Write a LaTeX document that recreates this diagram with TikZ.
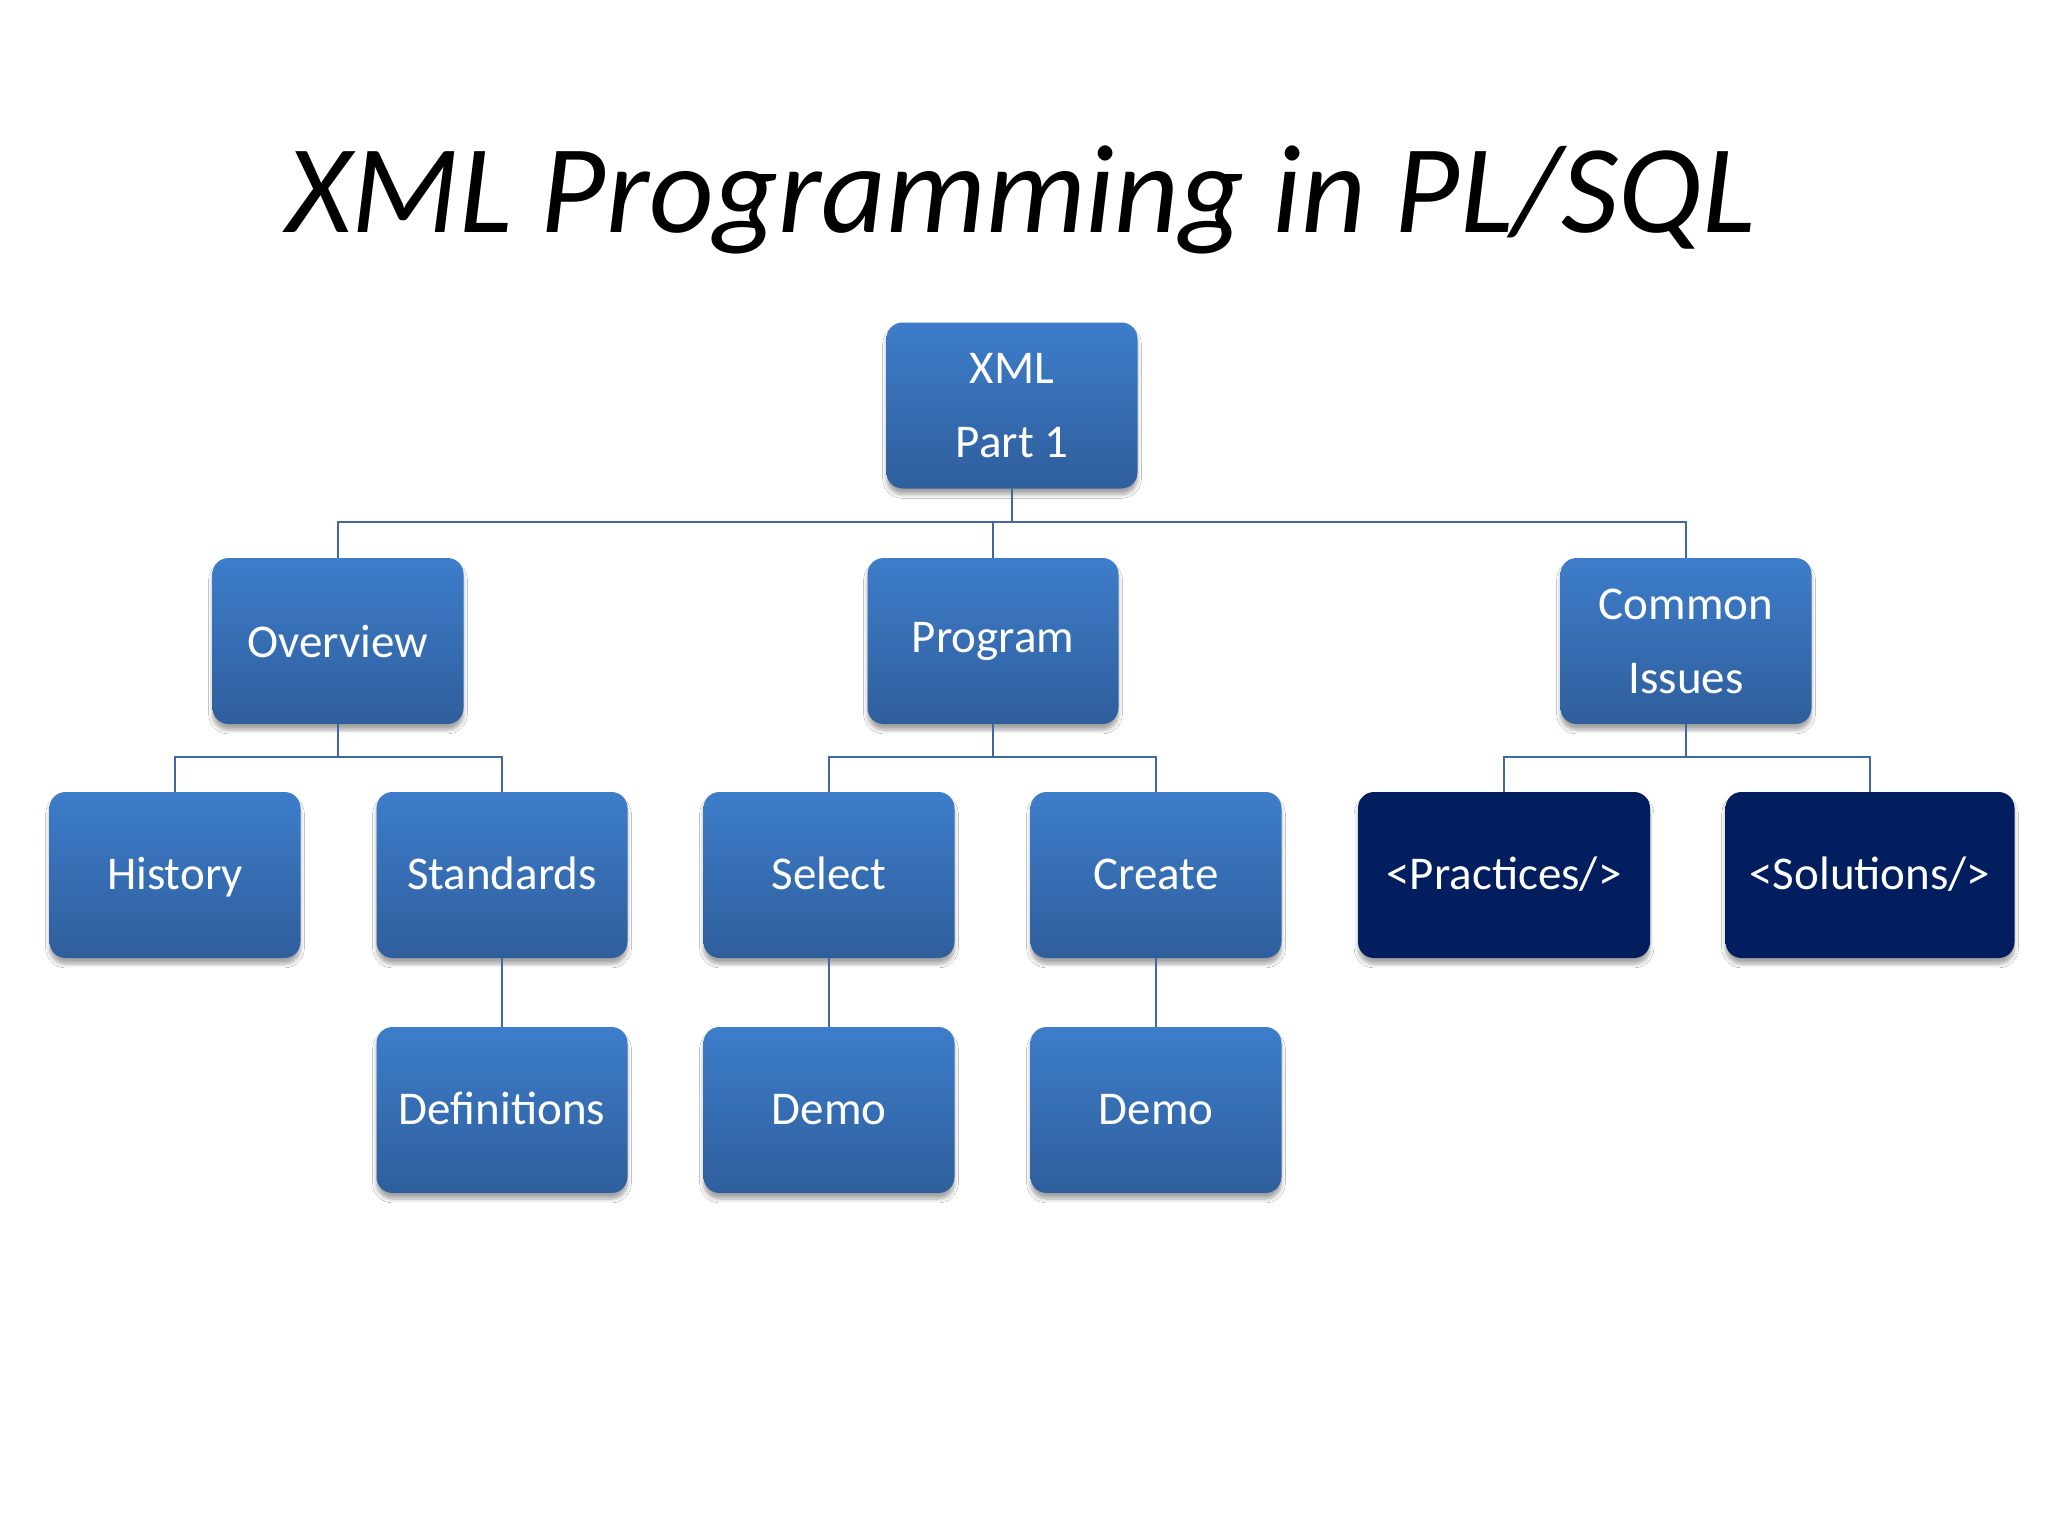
\documentclass[tikz,border=0pt]{standalone}
\usepackage{fontspec}
\setmainfont{Carlito}
\usetikzlibrary{shadows.blur}
\definecolor{boxtop}{HTML}{3D7DCA}
\definecolor{boxbot}{HTML}{2F5E9C}
\definecolor{navy}{HTML}{031E5E}
\definecolor{linec}{HTML}{41689F}
\tikzset{
  bx/.style={rectangle, rounded corners=8pt, minimum width=125.5pt, minimum height=83pt,
    inner sep=0pt, top color=boxtop, bottom color=boxbot, draw=none, text=white,
    font=\fontsize{23.5}{37}\selectfont, align=center,
    blur shadow={shadow xshift=0pt, shadow yshift=-3pt, shadow blur steps=6, shadow opacity=35}},
  dk/.style={bx, top color=navy, bottom color=navy},
  cn/.style={draw=linec, line width=1.3pt}
}
\begin{document}
\begin{tikzpicture}[x=0.5pt,y=-0.5pt]
\fill[white] (0,0) rectangle (2048,1536);
\useasboundingbox (0,0) rectangle (2048,1536);
\node[anchor=base, font=\fontsize{63}{70}\selectfont\itshape] (title) at (1021,232) {XML Programming in PL/SQL};
\node[bx] (root) at (1012,405.5) {XML\\Part 1};
\node[bx] (ov) at (338,641) {Overview};
\node[bx] (pg) at (993,641) {Program};
\node[bx] (ci) at (1686,641) {Common\\Issues};
\node[bx] (hi) at (175,875) {History\strut};
\node[bx] (st) at (502,875) {Standards\strut};
\node[bx] (se) at (829,875) {Select\strut};
\node[bx] (cr) at (1156,875) {Create\strut};
\node[dk, minimum width=146pt] (pr) at (1504,875) {<Practices/>\strut};
\node[dk, minimum width=144.5pt] (so) at (1870,875) {<Solutions/>\strut};
\node[bx] (de) at (502,1110) {Definitions\strut};
\node[bx] (d1) at (829,1110) {Demo\strut};
\node[bx] (d2) at (1156,1110) {Demo\strut};
\coordinate (b1) at (1012,522);
\coordinate (b2) at (338,757);
\coordinate (b3) at (993,757);
\coordinate (b4) at (1686,757);
\draw[cn] (root.south) -- (b1);
\draw[cn] (ov.north) |- (b1);
\draw[cn] (ci.north) |- (b1);
\draw[cn] (pg.north) -- (pg.north |- b1);
\draw[cn] (ov.south) -- (b2);
\draw[cn] (hi.north) |- (b2);
\draw[cn] (st.north) |- (b2);
\draw[cn] (pg.south) -- (b3);
\draw[cn] (se.north) |- (b3);
\draw[cn] (cr.north) |- (b3);
\draw[cn] (ci.south) -- (b4);
\draw[cn] (pr.north) |- (b4);
\draw[cn] (so.north) |- (b4);
\draw[cn] (st.south) -- (de.north);
\draw[cn] (se.south) -- (d1.north);
\draw[cn] (cr.south) -- (d2.north);
\end{tikzpicture}
\end{document}
